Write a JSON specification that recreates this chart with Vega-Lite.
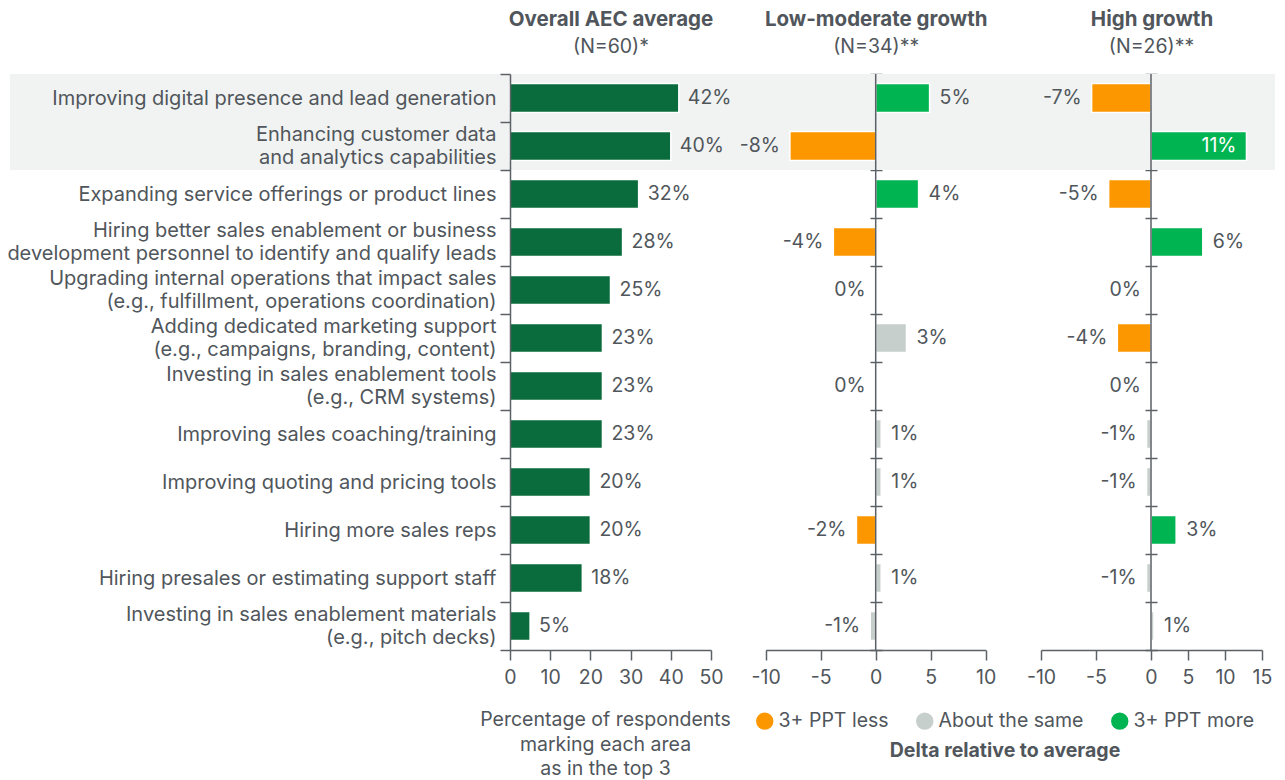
{
  "$schema": "https://vega.github.io/schema/vega-lite/v6.json",
  "width": 1265,
  "height": 576,
  "autosize": {"type": "none"},
  "padding": {"left": 10, "right": 10, "top": 74, "bottom": 130},
  "background": "white",
  "config": {
    "font": "Inter",
    "view": {"stroke": null},
    "axis": {
      "grid": false,
      "labelFont": "Inter",
      "titleFont": "Inter",
      "labelColor": "#50565b",
      "titleColor": "#50565b",
      "domainColor": "#5b6166",
      "tickColor": "#5b6166",
      "domainWidth": 1.5,
      "tickWidth": 1.5,
      "labelFontSize": 19.5,
      "titleFontSize": 19.5,
      "labelFontWeight": "normal",
      "titleFontWeight": "normal",
      "labelFlush": false,
      "labelOverlap": false
    },
    "legend": {"labelFont": "Inter", "titleFont": "Inter"},
    "text": {"font": "Inter", "fontSize": 19.5, "color": "#50565b", "baseline": "middle"}
  },
  "datasets": {
    "rows": [
      {"item": "Improving digital presence and lead generation", "overall": 42, "overallLabel": "42%", "low": 4.9, "lowLabel": "5%", "lowCat": "3+ PPT more", "high": -5.4, "highLabel": "-7%", "highCat": "3+ PPT less"},
      {"item": "Enhancing customer data\nand analytics capabilities", "overall": 40, "overallLabel": "40%", "low": -7.8, "lowLabel": "-8%", "lowCat": "3+ PPT less", "high": 12.9, "highLabel": "11%", "highCat": "3+ PPT more"},
      {"item": "Expanding service offerings or product lines", "overall": 32, "overallLabel": "32%", "low": 3.9, "lowLabel": "4%", "lowCat": "3+ PPT more", "high": -3.85, "highLabel": "-5%", "highCat": "3+ PPT less"},
      {"item": "Hiring better sales enablement or business\ndevelopment personnel to identify and qualify leads", "overall": 28, "overallLabel": "28%", "low": -3.85, "lowLabel": "-4%", "lowCat": "3+ PPT less", "high": 7.0, "highLabel": "6%", "highCat": "3+ PPT more"},
      {"item": "Upgrading internal operations that impact sales\n(e.g., fulfillment, operations coordination)", "overall": 25, "overallLabel": "25%", "low": 0, "lowLabel": "0%", "lowCat": "About the same", "high": 0, "highLabel": "0%", "highCat": "About the same"},
      {"item": "Adding dedicated marketing support\n(e.g., campaigns, branding, content)", "overall": 23, "overallLabel": "23%", "low": 2.8, "lowLabel": "3%", "lowCat": "About the same", "high": -3.06, "highLabel": "-4%", "highCat": "3+ PPT less"},
      {"item": "Investing in sales enablement tools\n(e.g., CRM systems)", "overall": 23, "overallLabel": "23%", "low": 0, "lowLabel": "0%", "lowCat": "About the same", "high": 0, "highLabel": "0%", "highCat": "About the same"},
      {"item": "Improving sales coaching/training", "overall": 23, "overallLabel": "23%", "low": 0.5, "lowLabel": "1%", "lowCat": "About the same", "high": -0.4, "highLabel": "-1%", "highCat": "About the same"},
      {"item": "Improving quoting and pricing tools", "overall": 20, "overallLabel": "20%", "low": 0.5, "lowLabel": "1%", "lowCat": "About the same", "high": -0.4, "highLabel": "-1%", "highCat": "About the same"},
      {"item": "Hiring more sales reps", "overall": 20, "overallLabel": "20%", "low": -1.75, "lowLabel": "-2%", "lowCat": "3+ PPT less", "high": 3.4, "highLabel": "3%", "highCat": "3+ PPT more"},
      {"item": "Hiring presales or estimating support staff", "overall": 18, "overallLabel": "18%", "low": 0.5, "lowLabel": "1%", "lowCat": "About the same", "high": -0.4, "highLabel": "-1%", "highCat": "About the same"},
      {"item": "Investing in sales enablement materials\n(e.g., pitch decks)", "overall": 5, "overallLabel": "5%", "low": -0.5, "lowLabel": "-1%", "lowCat": "About the same", "high": 0.4, "highLabel": "1%", "highCat": "About the same"}
    ],
    "highlight": [
      {"item": "Improving digital presence and lead generation"},
      {"item": "Enhancing customer data\nand analytics capabilities"}
    ],
    "zero": [{"at": 0}]
  },
  "resolve": {
    "scale": {"x": "independent", "y": "shared"},
    "axis": {"x": "independent", "y": "independent"}
  },
  "layer": [
    {
      "data": {"name": "highlight"},
      "mark": {"type": "rect", "color": "#f1f3f2"},
      "encoding": {
        "y": {"field": "item", "type": "nominal", "sort": null, "axis": null}
      }
    },
    {
      "data": {"name": "rows"},
      "mark": {"type": "bar", "height": {"band": 0.6}, "color": "#0a6b3c", "stroke": "white", "strokeWidth": 1.5},
      "encoding": {
        "y": {
          "field": "item", "type": "nominal", "sort": null,
          "scale": {"paddingInner": 0, "paddingOuter": 0},
          "axis": {
            "orient": "left", "offset": -500, "zindex": 1, "title": null, "domain": true, "ticks": true, "tickBand": "extent", "tickSize": 10, "labelPadding": 4, "labelLimit": 700,
            "labelExpr": "isString(datum.value) ? split(datum.value, '\\n') : ''",
            "labelFontSize": 20,
            "labelLineHeight": 23, "labelAlign": "right", "labelBaseline": "middle",
            "labelOffset": {"condition": {"test": "isString(datum.value) && indexof(datum.value, '\\n') >= 0", "value": -11.5}, "value": 0}
          }
        },
        "x": {
          "field": "overall", "type": "quantitative",
          "scale": {"domain": [0, 50], "range": [500, 701], "nice": false},
          "axis": {"orient": "bottom", "values": [0, 10, 20, 30, 40, 50], "tickSize": 10, "labelPadding": 8, "title": ["Percentage of respondents", "marking each area", "as in the top 3"], "titlePadding": 24, "titleLineHeight": 24.5, "titleX": 595}
        }
      }
    },
    {
      "data": {"name": "rows"},
      "mark": {"type": "text", "align": "left", "dx": 9},
      "encoding": {
        "y": {"field": "item", "type": "nominal", "sort": null, "axis": null},
        "x": {
          "field": "overall", "type": "quantitative",
          "scale": {"domain": [0, 50], "range": [500, 701], "nice": false},
          "axis": {"orient": "top", "values": [25], "labelExpr": "'(N=60)*'", "domain": false, "ticks": false, "tickSize": 0, "labelPadding": 18, "title": "Overall AEC average", "titleFontWeight": "bold", "titleFontSize": 20.5, "titlePadding": 7}
        },
        "text": {"field": "overallLabel"}
      }
    },
    {
      "data": {"name": "rows"},
      "mark": {"type": "bar", "height": {"band": 0.6}, "stroke": "white", "strokeWidth": 1.5},
      "encoding": {
        "y": {
          "field": "item", "type": "nominal", "sort": null,
          "axis": {"orient": "left", "offset": -872, "title": null, "domain": false, "labels": false, "ticks": true, "tickBand": "extent", "tickSize": 12}
        },
        "x": {
          "field": "low", "type": "quantitative",
          "scale": {"domain": [-10, 10], "range": [755.7, 975.7], "nice": false},
          "axis": {"orient": "bottom", "values": [-10, -5, 0, 5, 10], "labelExpr": "'' + datum.value", "tickSize": 10, "labelPadding": 8, "title": null}
        },
        "color": {
          "field": "lowCat", "type": "nominal",
          "scale": {"domain": ["3+ PPT less", "About the same", "3+ PPT more"], "range": ["#fc9700", "#c6cfcc", "#00b551"]},
          "legend": {"orient": "none", "legendX": 745, "legendY": 637, "direction": "horizontal", "title": "Delta relative to average", "titleOrient": "bottom", "titleAnchor": "middle", "titleFontWeight": "bold", "titleFontSize": 19.5, "titleColor": "#50565b", "titlePadding": 11, "titleLimit": 500, "symbolType": "circle", "symbolSize": 300, "symbolStrokeWidth": 0, "symbolOpacity": 1, "labelFontSize": 19.5, "labelColor": "#50565b", "labelOffset": 4, "columnPadding": 26, "labelLimit": 300}
        }
      }
    },
    {
      "data": {"name": "zero"},
      "mark": {"type": "rule", "color": "#5b6166", "strokeWidth": 1.5},
      "encoding": {
        "x": {
          "field": "at", "type": "quantitative",
          "scale": {"domain": [-10, 10], "range": [755.7, 975.7], "nice": false},
          "axis": {"orient": "top", "values": [0], "labelExpr": "'(N=34)**'", "domain": false, "ticks": false, "tickSize": 0, "labelPadding": 18, "title": "Low-moderate growth", "titleFontWeight": "bold", "titleFontSize": 20.5, "titlePadding": 7}
        }
      }
    },
    {
      "data": {"name": "rows"},
      "transform": [{"filter": "datum.low > 0"}],
      "mark": {"type": "text", "align": "left", "dx": 10},
      "encoding": {
        "y": {"field": "item", "type": "nominal", "sort": null, "axis": null},
        "x": {"field": "low", "type": "quantitative", "scale": {"domain": [-10, 10], "range": [755.7, 975.7], "nice": false}, "axis": null},
        "text": {"field": "lowLabel"}
      }
    },
    {
      "data": {"name": "rows"},
      "transform": [{"filter": "datum.low <= 0"}],
      "mark": {"type": "text", "align": "right", "dx": -10},
      "encoding": {
        "y": {"field": "item", "type": "nominal", "sort": null, "axis": null},
        "x": {"field": "low", "type": "quantitative", "scale": {"domain": [-10, 10], "range": [755.7, 975.7], "nice": false}, "axis": null},
        "text": {"field": "lowLabel"}
      }
    },
    {
      "data": {"name": "rows"},
      "mark": {"type": "bar", "height": {"band": 0.6}, "stroke": "white", "strokeWidth": 1.5},
      "encoding": {
        "y": {
          "field": "item", "type": "nominal", "sort": null,
          "axis": {"orient": "left", "offset": -1147, "title": null, "domain": false, "labels": false, "ticks": true, "tickBand": "extent", "tickSize": 12}
        },
        "x": {
          "field": "high", "type": "quantitative",
          "scale": {"domain": [-10, 0, 15], "range": [1031, 1141, 1252], "nice": false},
          "axis": {"orient": "bottom", "values": [-10, -5, 0, 5, 10, 15], "labelExpr": "'' + datum.value", "tickSize": 10, "labelPadding": 8, "title": null}
        },
        "color": {
          "field": "highCat", "type": "nominal",
          "scale": {"domain": ["3+ PPT less", "About the same", "3+ PPT more"], "range": ["#fc9700", "#c6cfcc", "#00b551"]},
          "legend": {"orient": "none", "legendX": 745, "legendY": 637, "direction": "horizontal", "title": "Delta relative to average", "titleOrient": "bottom", "titleAnchor": "middle", "titleFontWeight": "bold", "titleFontSize": 19.5, "titleColor": "#50565b", "titlePadding": 11, "titleLimit": 500, "symbolType": "circle", "symbolSize": 300, "symbolStrokeWidth": 0, "symbolOpacity": 1, "labelFontSize": 19.5, "labelColor": "#50565b", "labelOffset": 4, "columnPadding": 26, "labelLimit": 300}
        }
      }
    },
    {
      "data": {"name": "zero"},
      "mark": {"type": "rule", "color": "#5b6166", "strokeWidth": 1.5},
      "encoding": {
        "x": {
          "field": "at", "type": "quantitative",
          "scale": {"domain": [-10, 0, 15], "range": [1031, 1141, 1252], "nice": false},
          "axis": {"orient": "top", "values": [0], "labelExpr": "'(N=26)**'", "domain": false, "ticks": false, "tickSize": 0, "labelPadding": 18, "title": "High growth", "titleFontWeight": "bold", "titleFontSize": 20.5, "titlePadding": 7}
        }
      }
    },
    {
      "data": {"name": "rows"},
      "transform": [{"filter": "datum.high > 0 && datum.high < 10"}],
      "mark": {"type": "text", "align": "left", "dx": 10},
      "encoding": {
        "y": {"field": "item", "type": "nominal", "sort": null, "axis": null},
        "x": {"field": "high", "type": "quantitative", "scale": {"domain": [-10, 0, 15], "range": [1031, 1141, 1252], "nice": false}, "axis": null},
        "text": {"field": "highLabel"}
      }
    },
    {
      "data": {"name": "rows"},
      "transform": [{"filter": "datum.high <= 0"}],
      "mark": {"type": "text", "align": "right", "dx": -10},
      "encoding": {
        "y": {"field": "item", "type": "nominal", "sort": null, "axis": null},
        "x": {"field": "high", "type": "quantitative", "scale": {"domain": [-10, 0, 15], "range": [1031, 1141, 1252], "nice": false}, "axis": null},
        "text": {"field": "highLabel"}
      }
    },
    {
      "data": {"name": "rows"},
      "transform": [{"filter": "datum.high >= 10"}],
      "mark": {"type": "text", "align": "right", "dx": -10, "color": "white"},
      "encoding": {
        "y": {"field": "item", "type": "nominal", "sort": null, "axis": null},
        "x": {"field": "high", "type": "quantitative", "scale": {"domain": [-10, 0, 15], "range": [1031, 1141, 1252], "nice": false}, "axis": null},
        "text": {"field": "highLabel"}
      }
    }
  ]
}
